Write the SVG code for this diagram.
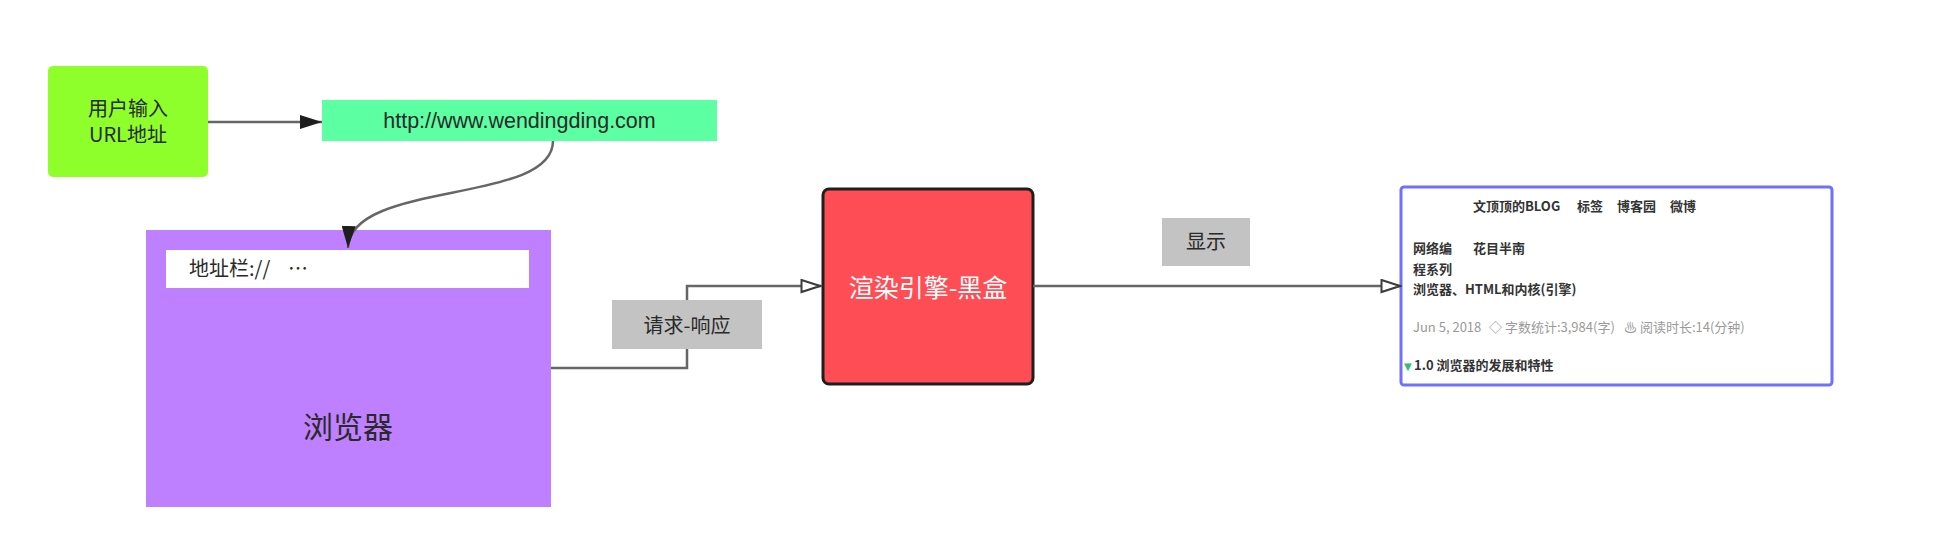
<svg xmlns="http://www.w3.org/2000/svg" width="1954" height="552" viewBox="0 0 1954 552">
  <defs>
    <style>
      .t { font-family: "Liberation Sans", "Noto Sans CJK SC", sans-serif; fill: #2a2a2a; }
      .cjk { font-family: "Noto Sans CJK SC", "Liberation Sans", sans-serif; fill: #2a2a2a; }
      .conn { fill: none; stroke: #666666; stroke-width: 2.5; }
      .lbl { fill: #c3c3c3; }
      .shot { font-family: "Noto Sans CJK SC", "Liberation Sans", sans-serif; font-size: 13px; font-weight: bold; fill: #333; }
      .shotg { font-family: "Noto Sans CJK SC", "DejaVu Sans", sans-serif; font-size: 13px; fill: #9a9a9a; }
    </style>
    <marker id="arrFill" viewBox="0 0 22 14" refX="22" refY="7" markerWidth="22" markerHeight="14" orient="auto" markerUnits="userSpaceOnUse">
      <path d="M0,0 L22,7 L0,14 Z" fill="#1e1e1e"/>
    </marker>
    <marker id="arrOpen" viewBox="0 0 22 15" refX="21" refY="7.5" markerWidth="22" markerHeight="15" orient="auto" markerUnits="userSpaceOnUse">
      <path d="M1.5,1.5 L20,7.5 L1.5,13.5 Z" fill="#ffffff" stroke="#3c3c3c" stroke-width="2"/>
    </marker>
  </defs>

  <rect x="0" y="0" width="1954" height="552" fill="#ffffff"/>

  <g id="user-input">
    <rect x="48" y="66" width="160" height="111" rx="5" fill="#8eff2a"/>
    <text class="cjk" x="128" y="116" font-size="20" text-anchor="middle">用户输入</text>
    <text class="cjk" x="128" y="142" font-size="20" text-anchor="middle">URL地址</text>
  </g>

  <g id="url">
    <rect x="322" y="100" width="395" height="41" fill="#5cffa1"/>
    <text class="t" x="519.5" y="128" font-size="21.5" text-anchor="middle">http://www.wendingding.com</text>
  </g>

  <g id="browser">
    <rect x="146" y="230" width="405" height="277" fill="#bf80ff"/>
    <rect x="166" y="250" width="363" height="38" fill="#ffffff"/>
    <text class="cjk" x="189" y="276" font-size="20">地址栏://</text>
    <text class="cjk" x="288" y="276" font-size="20">…</text>
    <text class="cjk" x="348" y="438" font-size="30" text-anchor="middle">浏览器</text>
  </g>

  <g id="render-engine">
    <rect x="823" y="189" width="210" height="195" rx="6" fill="#fe4d55" stroke="#1e1e1e" stroke-width="3"/>
    <text class="cjk" x="928" y="297" font-size="25" style="fill:#ffffff" text-anchor="middle">渲染引擎-黑盒</text>
  </g>

  <g id="page-screenshot">
    <rect x="1401" y="187" width="431" height="198" rx="3" fill="#ffffff" stroke="#7070ff" stroke-width="3"/>
    <text class="shot" x="1473" y="211">文顶顶的BLOG</text>
    <text class="shot" x="1577" y="211">标签</text>
    <text class="shot" x="1617" y="211">博客园</text>
    <text class="shot" x="1670" y="211">微博</text>
    <text class="shot" x="1413" y="253" font-size="14">网络编</text>
    <text class="shot" x="1473" y="253" font-size="14">花目半南</text>
    <text class="shot" x="1413" y="274" font-size="14">程系列</text>
    <text class="shot" x="1413" y="294" font-size="14">浏览器、HTML和内核(引擎)</text>
    <text class="shotg" x="1413" y="332">Jun 5, 2018</text>
    <text class="shotg" x="1489" y="332">◇ 字数统计:3,984(字)</text>
    <text class="shotg" x="1624" y="332">♨ 阅读时长:14(分钟)</text>
    <text x="1404" y="370" font-family="DejaVu Sans, sans-serif" font-size="10" fill="#2fbf6f">▼</text>
    <text class="shot" x="1414" y="370" font-size="14">1.0 浏览器的发展和特性</text>
  </g>

  <g id="connectors">
    <line class="conn" x1="208" y1="122" x2="322" y2="122" stroke-width="3" marker-end="url(#arrFill)"/>
    <path class="conn" d="M553,141 C553,205 350,180 348,248" stroke-width="2" marker-end="url(#arrFill)"/>
    <path class="conn" d="M551,368 L687,368 L687,286 L821,286" marker-end="url(#arrOpen)"/>
    <line class="conn" x1="1033" y1="286" x2="1401" y2="286" stroke-width="3" marker-end="url(#arrOpen)"/>
  </g>

  <g id="label-request-response">
    <rect class="lbl" x="612" y="300" width="150" height="49"/>
    <text class="cjk" x="687" y="333" font-size="20" text-anchor="middle">请求-响应</text>
  </g>

  <g id="label-display">
    <rect class="lbl" x="1162" y="218" width="88" height="48"/>
    <text class="cjk" x="1206" y="249" font-size="20" text-anchor="middle">显示</text>
  </g>
</svg>
